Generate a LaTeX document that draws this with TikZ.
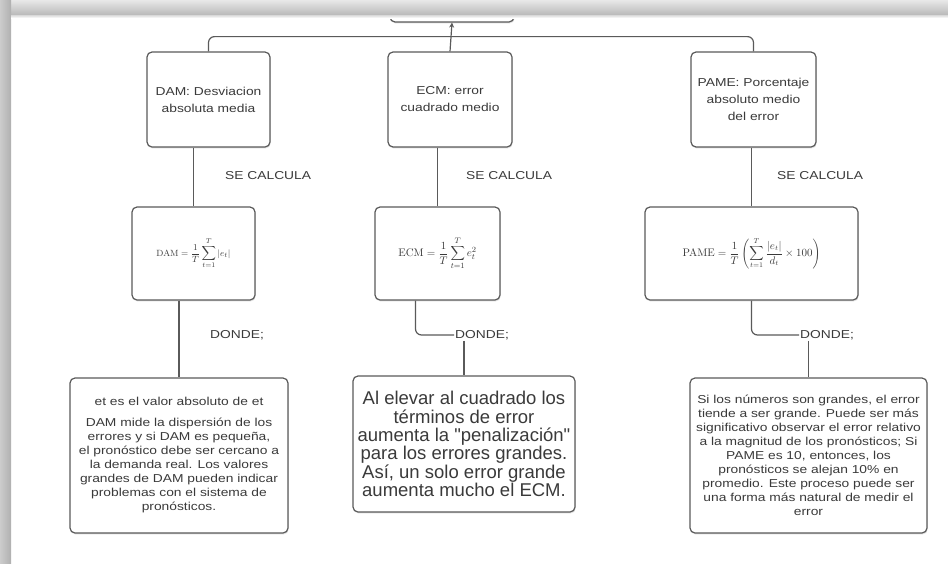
\documentclass[tikz,border=0pt]{standalone}
\usepackage[no-math]{fontspec}
\setmainfont{Liberation Sans}
\newfontfamily\labelfont[FakeStretch=1.2]{Liberation Sans}
\newfontfamily\bigfont[Ligatures=TeXOff]{Liberation Sans}
\usetikzlibrary{arrows.meta,calc,shadows}
\definecolor{edge}{HTML}{5A5A5A}
\definecolor{ink}{HTML}{3A3A3A}
\begin{document}
\begin{tikzpicture}[x=1pt,y=-1pt,
  card/.style={draw=edge, line width=1.2pt, rounded corners=5pt, fill=white,
    drop shadow={opacity=0.25, shadow xshift=0.6pt, shadow yshift=-1.4pt},
    inner sep=0pt, text=ink, align=center},
  smalltxt/.style={font=\labelfont\fontsize{11.5}{17}\selectfont, text=ink},
  conn/.style={draw=edge, line width=1.2pt, rounded corners=6pt},
  tag/.style={smalltxt, inner sep=1pt, anchor=west}]
\useasboundingbox (0,0) rectangle (948,563);
\fill[white] (0,0) rectangle (948,563);

% root box (only its lower part shows under the toolbar)
\node[card, minimum width=124pt, minimum height=44pt] (top) at (452,0) {};

% the three measures
\node[card, smalltxt, minimum width=123pt, minimum height=95pt] (dam) at (208.5,99.5)
  {DAM: Desviacion\\absoluta media};
\node[card, smalltxt, minimum width=124pt, minimum height=95pt] (ecm) at (450,99.5)
  {ECM: error\\cuadrado medio};
\node[card, smalltxt, minimum width=125pt, minimum height=95pt] (pame) at (753.5,99.5)
  {PAME: Porcentaje\\absoluto medio\\del error};

% formulas
\node[card, minimum width=123pt, minimum height=93pt, font=\fontsize{9.5}{11}\selectfont] (damf) at (193.5,253.5)
  {$\displaystyle \mathrm{DAM}=\frac{1}{T}\sum_{t=1}^{T}|e_t|$};
\node[card, minimum width=125pt, minimum height=93pt, font=\fontsize{11}{13}\selectfont] (ecmf) at (437.5,253.5)
  {$\displaystyle \mathrm{ECM}=\frac{1}{T}\sum_{t=1}^{T}e_t^{2}$};
\node[card, minimum width=213pt, minimum height=93pt, font=\fontsize{10.5}{12}\selectfont] (pamef) at (751.5,253.5)
  {$\displaystyle \mathrm{PAME}=\frac{1}{T}\left(\sum_{t=1}^{T}\frac{|e_t|}{d_t}\times 100\right)$};

% explanations
\node[card, minimum width=218pt, minimum height=155pt,
      font=\labelfont\fontsize{11.5}{14}\selectfont] (damb) at (179,455.5)
  {et es el valor absoluto de et\\[7pt]
   DAM mide la dispersión de los\\
   errores y si DAM es pequeña,\\
   el pronóstico debe ser cercano a\\
   la demanda real. Los valores\\
   grandes de DAM pueden indicar\\
   problemas con el sistema de\\
   pronósticos.};
\node[card, minimum width=222pt, minimum height=136pt,
      font=\bigfont\fontsize{18.5}{18.4}\selectfont] (ecmb) at (464,444)
  {Al elevar al cuadrado los\\
   términos de error\\
   aumenta la "penalización"\\
   para los errores grandes.\\
   Así, un solo error grande\\
   aumenta mucho el ECM.};
\node[card, minimum width=237pt, minimum height=155pt,
      font=\labelfont\fontsize{11.5}{14}\selectfont] (pameb) at (808.5,455.5)
  {Si los números son grandes, el error\\
   tiende a ser grande. Puede ser más\\
   significativo observar el error relativo\\
   a la magnitud de los pronósticos; Si\\
   PAME es 10, entonces, los\\
   pronósticos se alejan 10\% en\\
   promedio. Este proceso puede ser\\
   una forma más natural de medir el\\
   error};

% edge labels
\node[tag] (scA) at (224,176) {SE CALCULA};
\node[tag] (scB) at (465,176) {SE CALCULA};
\node[tag] (scC) at (776,176) {SE CALCULA};
\node[tag] (doA) at (209,335) {DONDE;};
\node[tag] (doB) at (454,335) {DONDE;};
\node[tag] (doC) at (799,335) {DONDE;};

% connectors
\coordinate (busj) at ($(top.south)+(0,14)$);
\draw[conn] (dam.north) |- (busj) -| (pame.north);
\draw[draw=edge, line width=1.2pt, -{Stealth[length=5pt,width=5pt]}] (ecm.north) -- (top.south);

\draw[conn] (dam.south -| damf.north) -- (damf.north);
\draw[conn] (ecm.south -| ecmf.north) -- (ecmf.north);
\draw[conn] (pame.south -| pamef.north) -- (pamef.north);

\coordinate (ecmo) at ($(ecmf.south)+(-22,0)$);
\draw[conn] (damf.south -| damb.north) -- (damb.north);
\draw[conn] (ecmo) |- (doB.west);
\draw[conn] (doB.south -| ecmb.north) -- (ecmb.north);
\draw[conn] (pamef.south) |- (doC.west);
\draw[conn] (doC.south -| pameb.north) -- (pameb.north);

% window chrome: toolbar shadow and left margin
\shade[top color=gray!18, bottom color=gray!55] (0,0) rectangle (948,15);
\shade[left color=gray!40, right color=gray!62] (0,0) rectangle (11,563);
\shade[top color=gray!30, bottom color=white] (11,15) rectangle (948,18);
\end{tikzpicture}
\end{document}
